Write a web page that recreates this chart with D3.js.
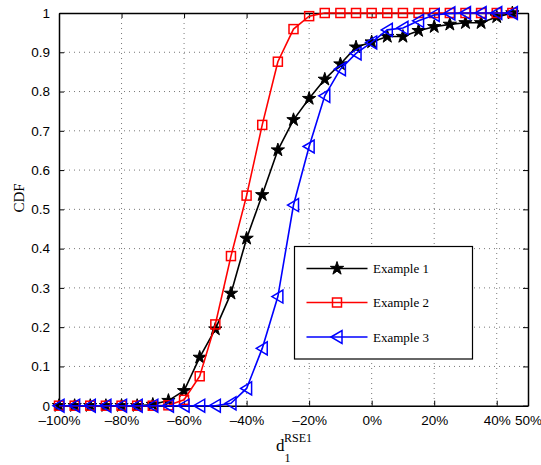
<!DOCTYPE html>
<html>
<head>
<meta charset="utf-8">
<script src="https://cdn.jsdelivr.net/npm/d3@7"></script>
<style>
body { margin: 0; background: #fff; }
</style>
</head>
<body>
<div id="chart"></div>
<script>
// x positions (percent)
var xValues = [-100,-95,-90,-85,-80,-75,-70,-65,-60,-55,-50,-45,-40,-35,-30,-25,-20,-15,-10,-5,0,5,10,15,20,25,30,35,40,45];

var example1 = [0,0,0,0,0,0,0.003,0.013,0.038,0.123,0.195,0.286,0.426,0.537,0.651,0.728,0.782,0.831,0.87,0.913,0.926,0.94,0.94,0.955,0.965,0.971,0.975,0.975,0.99,1.0];
var example2 = [0,0,0,0,0,0,0,0.001,0.015,0.075,0.207,0.381,0.535,0.715,0.876,0.959,0.992,1,1,1,1,1,1,1,1,1,1,1,1,1];
var example3 = [0,0,0,0,0,0,0,0,0,0,0,0.006,0.044,0.146,0.278,0.511,0.66,0.789,0.857,0.897,0.925,0.957,0.962,0.98,0.995,0.999,1,1,1,1];

var seriesNames = ["Example 1", "Example 2", "Example 3"];
var xTicks = [-100,-80,-60,-40,-20,0,20,40,50];
var yTicks = [0,0.1,0.2,0.3,0.4,0.5,0.6,0.7,0.8,0.9,1];

var width = 541, height = 465;
var plotL = 59, plotR = 528, plotT = 13, plotB = 405.7;

var svg = d3.select("#chart").append("svg")
    .attr("width", width)
    .attr("height", height);

var x = d3.scaleLinear().domain([-100, 50]).range([plotL, plotR]);
var y = d3.scaleLinear().domain([0, 1]).range([plotB, plotT]);

// grid
svg.append("g").selectAll("line")
    .data(xTicks.slice(1, -1))
    .enter().append("line")
    .attr("x1", function (d) { return x(d); })
    .attr("x2", function (d) { return x(d); })
    .attr("y1", plotT).attr("y2", plotB)
    .attr("stroke", "#555").attr("stroke-width", 0.8)
    .attr("stroke-dasharray", "1,4");
svg.append("g").selectAll("line")
    .data(yTicks.slice(1, -1))
    .enter().append("line")
    .attr("x1", plotL).attr("x2", plotR)
    .attr("y1", function (d) { return y(d); })
    .attr("y2", function (d) { return y(d); })
    .attr("stroke", "#555").attr("stroke-width", 0.8)
    .attr("stroke-dasharray", "1,4");

// axes (ticks inward, MATLAB style)
var fmtX = function (d) { return (d < 0 ? "\u2013" + (-d) : d) + "%"; };
var axB = svg.append("g").attr("transform", "translate(0," + plotB + ")")
    .call(d3.axisBottom(x).tickValues(xTicks).tickFormat(fmtX).tickSizeInner(-5).tickSizeOuter(0).tickPadding(10));
var axT = svg.append("g").attr("transform", "translate(0," + plotT + ")")
    .call(d3.axisTop(x).tickValues(xTicks).tickFormat("").tickSizeInner(-5).tickSizeOuter(0));
var axL = svg.append("g").attr("transform", "translate(" + plotL + ",0)")
    .call(d3.axisLeft(y).tickValues(yTicks).tickFormat(function (d) { return d === 0 ? "0" : d === 1 ? "1" : d3.format(".1f")(d); }).tickSizeInner(-5).tickSizeOuter(0).tickPadding(9));
var axR = svg.append("g").attr("transform", "translate(" + plotR + ",0)")
    .call(d3.axisRight(y).tickValues(yTicks).tickFormat("").tickSizeInner(-5).tickSizeOuter(0));

[axB, axT, axL, axR].forEach(function (g) {
    g.select(".domain").attr("stroke", "#000").attr("stroke-width", 1.5);
    g.selectAll(".tick line").attr("stroke", "#000").attr("stroke-width", 1);
    g.selectAll("text").attr("fill", "#000")
        .style("font-family", "'Liberation Sans', Arial, sans-serif")
        .style("font-size", "13.5px");
});

// series
var seriesData = [example1, example2, example3];
var colors = ["#000000", "#ff0000", "#0000ff"];

function drawMarker(g, i, cx, cy) {
    if (i === 0) {
        g.append("path")
            .attr("d", d3.symbol().type(d3.symbolStar).size(55)())
            .attr("transform", "translate(" + cx + "," + cy + ")")
            .attr("fill", "#000").attr("stroke", "#000").attr("stroke-width", 1);
    } else if (i === 1) {
        g.append("rect")
            .attr("x", cx - 4.5).attr("y", cy - 4.5)
            .attr("width", 9).attr("height", 9)
            .attr("fill", "none").attr("stroke", colors[1]).attr("stroke-width", 1.5);
    } else {
        g.append("path")
            .attr("d", "M" + (cx - 6) + "," + cy + "L" + (cx + 5) + "," + (cy - 6.5) + "L" + (cx + 5) + "," + (cy + 6.5) + "Z")
            .attr("fill", "none").attr("stroke", colors[2]).attr("stroke-width", 1.5);
    }
}

var line = d3.line()
    .x(function (d) { return x(d[0]); })
    .y(function (d) { return y(d[1]); });

seriesData.forEach(function (vals, i) {
    var pts = xValues.map(function (xv, j) { return [xv, vals[j]]; });
    var g = svg.append("g");
    g.append("path").datum(pts)
        .attr("d", line)
        .attr("fill", "none")
        .attr("stroke", colors[i])
        .attr("stroke-width", 1.6);
    pts.forEach(function (p) { drawMarker(g, i, x(p[0]), y(p[1])); });
});

// legend
var lg = svg.append("g");
lg.append("rect")
    .attr("x", 294.5).attr("y", 246.5)
    .attr("width", 178).attr("height", 112.5)
    .attr("fill", "#fff").attr("stroke", "#000").attr("stroke-width", 1.2);
var rowY = [268.5, 302.5, 337];
seriesNames.forEach(function (name, i) {
    lg.append("line")
        .attr("x1", 306.5).attr("x2", 367.5)
        .attr("y1", rowY[i]).attr("y2", rowY[i])
        .attr("stroke", colors[i]).attr("stroke-width", 1.6);
    drawMarker(lg, i, 337, rowY[i]);
    lg.append("text")
        .attr("x", 373).attr("y", rowY[i] + 4.5)
        .text(name)
        .style("font-family", "'Liberation Serif', 'Times New Roman', serif")
        .style("font-size", "13px");
});

// y label
svg.append("text")
    .attr("transform", "translate(24,198) rotate(-90)")
    .attr("text-anchor", "middle")
    .text("CDF")
    .style("font-family", "'Liberation Serif', 'Times New Roman', serif")
    .style("font-size", "15px");

// x label d_1^{RSE1}
svg.append("text")
    .attr("x", 276).attr("y", 451)
    .text("d")
    .style("font-family", "'Liberation Serif', 'Times New Roman', serif")
    .style("font-size", "17px");
svg.append("text").attr("x", 284).attr("y", 442).text("RSE1")
    .style("font-family", "'Liberation Serif', 'Times New Roman', serif")
    .style("font-size", "12px");
svg.append("text").attr("x", 284.5).attr("y", 462).text("1")
    .style("font-family", "'Liberation Serif', 'Times New Roman', serif")
    .style("font-size", "12px");
</script>
</body>
</html>
